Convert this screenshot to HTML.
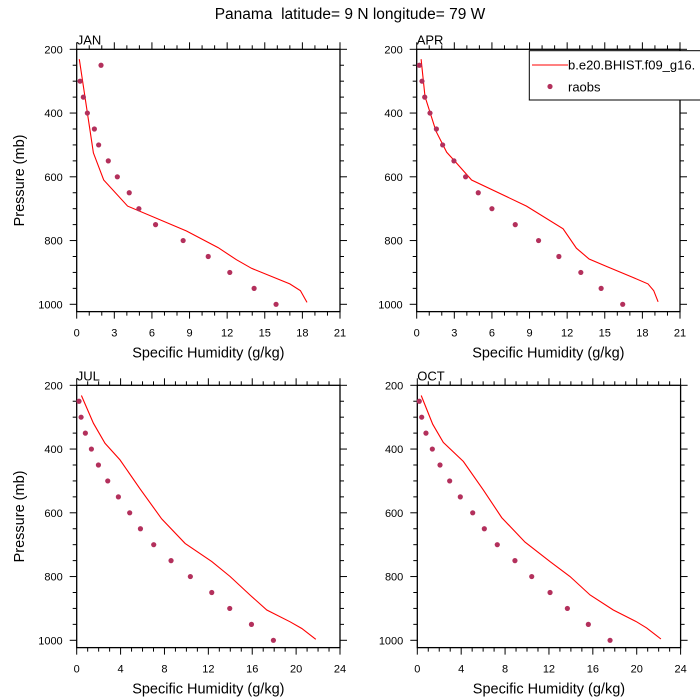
<!DOCTYPE html>
<html><head><meta charset="utf-8"><style>
html,body{margin:0;padding:0;background:#fff;}
svg{display:block;font-family:"Liberation Sans",Arial,sans-serif;}
</style></head><body>
<svg id="chart" width="700" height="700" viewBox="0 0 700 700" xmlns="http://www.w3.org/2000/svg">
<text x="350" y="19" text-anchor="middle" font-size="15.5" style="white-space:pre">Panama  latitude= 9 N longitude= 79 W</text>
</svg>
<script>
const pressureLevels = [250,300,350,400,450,500,550,600,650,700,750,800,850,900,950,1000];
const janObs = [1.94,0.27,0.53,0.85,1.41,1.75,2.52,3.24,4.19,4.96,6.29,8.49,10.49,12.21,14.15,15.9];
const aprObs = [0.21,0.42,0.64,1.06,1.57,2.07,2.97,3.9,4.91,6.0,7.86,9.72,11.34,13.09,14.71,16.43];
const julObs = [0.21,0.4,0.79,1.34,1.98,2.83,3.8,4.83,5.81,7.02,8.6,10.36,12.31,13.95,15.93,17.93];
const octObs = [0.18,0.4,0.79,1.37,2.07,2.95,3.92,5.05,6.11,7.29,8.9,10.43,12.1,13.68,15.59,17.57];
const janModelP = [231,525,610,692,770,822,860,887,936,957,994];
const janModelQ = [0.21,1.33,2.15,4.06,8.76,11.28,12.74,13.94,17.0,17.84,18.37];
const aprModelP = [231,348,457,523,551,610,692,763,824,858,881,916,936,957,992];
const aprModelQ = [0.35,0.66,1.54,2.39,3.05,4.38,8.76,11.68,12.74,13.75,15.13,17.26,18.45,18.9,19.25];
const julModelP = [232,319,382,434,525,619,696,753,800,858,905,942,963,997];
const julModelQ = [0.43,1.52,2.58,3.95,5.78,7.75,9.88,12.31,13.98,15.8,17.33,19.45,20.52,21.79];
const octModelP = [232,322,379,439,528,615,692,753,800,858,905,942,961,996];
const octModelQ = [0.36,1.4,2.37,4.2,6.02,7.69,9.82,12.1,13.92,15.75,17.87,19.99,20.9,22.2];
const yTicks = [200,400,600,800,1000];
const xTicks21 = [0,3,6,9,12,15,18,21];
const xTicks24 = [0,4,8,12,16,20,24];

const NS="http://www.w3.org/2000/svg";
const svg=document.getElementById('chart');
function mk(tag,attrs,parent){const e=document.createElementNS(NS,tag);for(const k in attrs)e.setAttribute(k,attrs[k]);(parent||svg).appendChild(e);return e;}

const panels=[
 {name:'jan',label:'JAN',x0:76.7,x1:340,y0:49.3,xmax:21,ticks:xTicks21,obs:janObs,mp:janModelP,mq:janModelQ,ylab:true},
 {name:'apr',label:'APR',x0:416.7,x1:680,y0:49.3,xmax:21,ticks:xTicks21,obs:aprObs,mp:aprModelP,mq:aprModelQ,ylab:false},
 {name:'jul',label:'JUL',x0:76.7,x1:340,y0:385.3,xmax:24,ticks:xTicks24,obs:julObs,mp:julModelP,mq:julModelQ,ylab:true},
 {name:'oct',label:'OCT',x0:417.3,x1:680.6,y0:385.3,xmax:24,ticks:xTicks24,obs:octObs,mp:octModelP,mq:octModelQ,ylab:false}
];
const PPX=255/800;
const PMAX=1023;
panels.forEach(p=>{
  const g=mk('g',{});
  
  
  const xs=v=>p.x0+v/p.xmax*(p.x1-p.x0);
  const ys=v=>p.y0+(v-200)*PPX;
  const yb=ys(PMAX);
  for(let v=0;v<=p.xmax;v+=1){
    const maj=p.ticks.includes(v);const L=maj?7:4;const x=xs(v);
    mk('line',{x1:x,x2:x,y1:yb,y2:yb+L,stroke:'#000','stroke-width':1},g);
    mk('line',{x1:x,x2:x,y1:p.y0,y2:p.y0-L,stroke:'#000','stroke-width':1},g);
  }
  for(let v=200;v<=1000;v+=50){
    const maj=yTicks.includes(v);const L=maj?7:4;const y=ys(v);
    mk('line',{x1:p.x0,x2:p.x0-L,y1:y,y2:y,stroke:'#000','stroke-width':1},g);
    mk('line',{x1:p.x1,x2:p.x1+L,y1:y,y2:y,stroke:'#000','stroke-width':1},g);
  }
  const fr=mk('rect',{x:p.x0,y:p.y0,width:p.x1-p.x0,height:yb-p.y0,fill:'none',stroke:'#000','stroke-width':1.3},g);
  
  
  p.ticks.forEach(v=>{
    const t=mk('text',{x:xs(v),y:yb+25,'text-anchor':'middle','font-size':11},g);t.textContent=v;
    
    
  });
  yTicks.forEach(v=>{
    const t=mk('text',{x:p.x0-14,y:ys(v)+4,'text-anchor':'end','font-size':11},g);t.textContent=v;
    
    
  });
  const lb=mk('text',{x:p.x0,y:p.y0-5,'font-size':13},g);lb.textContent=p.label;
  
  
  const xt=mk('text',{x:(p.x0+p.x1)/2,y:yb+46,'text-anchor':'middle','font-size':14.5},g);xt.textContent='Specific Humidity (g/kg)';
  
  
  if(p.ylab){
    const cy=(p.y0+yb)/2;
    const yt=mk('text',{x:24,y:cy,'text-anchor':'middle','font-size':14.5,transform:'rotate(-90 24 '+cy+')'},g);yt.textContent='Pressure (mb)';
    
    
  }
  const pts=p.mq.map((q,i)=>xs(q).toFixed(1)+','+ys(p.mp[i]).toFixed(1)).join(' ');
  const ln=mk('polyline',{points:pts,fill:'none',stroke:'#ff0000','stroke-width':1.1},g);
  
  
  p.obs.forEach((q,i)=>{
    const c=mk('circle',{cx:xs(q),cy:ys(pressureLevels[i]),r:2.6,fill:'#b3305c'},g);
    
    
  });
});
const lg=mk('g',{});


mk('rect',{x:529.3,y:50.7,width:180,height:49.3,fill:'#fff',stroke:'#000','stroke-width':1},lg);
const l1=mk('line',{x1:532,x2:568,y1:65,y2:65,stroke:'#ff0000','stroke-width':1.1},lg);


const t1=mk('text',{x:568,y:69.5,'font-size':13},lg);t1.textContent='b.e20.BHIST.f09_g16.';


const c1=mk('circle',{cx:550,cy:86.5,r:2.6,fill:'#b3305c'},lg);


const t2=mk('text',{x:568,y:91.5,'font-size':13},lg);t2.textContent='raobs';


</script>
</body></html>
